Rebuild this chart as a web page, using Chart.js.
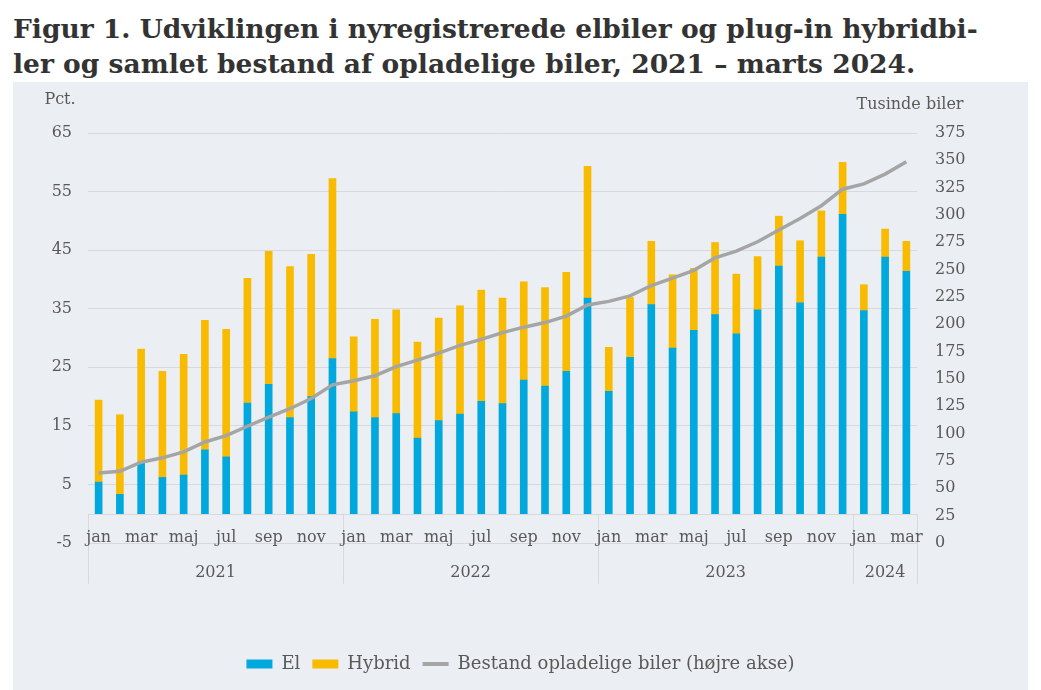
<!DOCTYPE html>
<html lang="da">
<head>
<meta charset="utf-8">
<title>Elbiler og plug-in hybridbiler</title>
<script src="https://cdn.jsdelivr.net/npm/chart.js@4"></script>
<style>
  html, body { margin: 0; padding: 0; background: #fff; }
  body { width: 1041px; height: 690px; position: relative; overflow: hidden; }
  h1 {
    position: absolute; left: 13px; top: 11px; margin: 0; width: 1020px;
    font-family: "DejaVu Serif", serif; font-weight: bold; font-size: 26.5px;
    line-height: 35px; color: #333; white-space: nowrap;
  }
  #wrap {
    position: absolute; left: 13px; top: 82px; width: 1015px; height: 608px;
    background: #ebeff3;
  }
</style>
</head>
<body>
<h1>Figur 1. Udviklingen i nyregistrerede elbiler og plug-in hybridbi-<br>ler og samlet bestand af opladelige biler, 2021 – marts 2024.</h1>
<div id="wrap"><canvas id="chart"></canvas></div>
<script>
// måneder og år
const monthNames = ['jan', 'feb', 'mar', 'apr', 'maj', 'jun', 'jul', 'aug', 'sep', 'okt', 'nov', 'dec'];
const years = ['2021', '2022', '2023', '2024'];
const monthsPerYear = [12, 12, 12, 3];

// andel af nyregistreringer, pct.
const elShare = [
  5.4, 3.3, 8.8, 6.2, 6.6, 10.9, 9.7, 18.9, 22.1, 16.4, 20.0, 26.5,
  17.4, 16.4, 17.1, 12.9, 15.9, 17.0, 19.2, 18.8, 22.8, 21.8, 24.3, 36.8,
  20.9, 26.7, 35.7, 28.3, 31.3, 34.0, 30.7, 34.8, 42.3, 36.0, 43.8, 51.1,
  34.7, 43.8, 41.4
];
const hybridShare = [
  14.0, 13.6, 19.3, 18.1, 20.6, 22.1, 21.8, 21.3, 22.7, 25.8, 24.3, 30.7,
  12.8, 16.8, 17.7, 16.4, 17.5, 18.5, 19.0, 18.0, 16.8, 16.8, 16.9, 22.5,
  7.5, 10.2, 10.8, 12.5, 10.6, 12.3, 10.2, 9.1, 8.5, 10.6, 7.9, 8.9,
  4.4, 4.8, 5.1
];
// bestand af opladelige biler, tusinde
const stock = [
  64.0, 65.6, 73.9, 77.9, 83.4, 92.4, 98.2, 106.8, 115.2, 122.8, 132.1, 144.7,
  148.4, 153.0, 161.3, 167.2, 173.6, 180.7, 186.3, 192.4, 197.4, 201.6, 207.5, 217.7,
  221.0, 226.0, 235.5, 242.3, 249.4, 260.8, 266.9, 275.5, 286.3, 296.8, 308.5, 323.6,
  328.5, 337.4, 348.8
];

const labels = [];
const tickLabels = [];
years.forEach((yr, k) => {
  for (let m = 0; m < monthsPerYear[k]; m++) {
    labels.push(monthNames[m] + ' ' + yr);
    tickLabels.push(m % 2 === 0 ? monthNames[m] : '');
  }
});

const textColor = '#595959';
const gridColor = '#d6d9dd';
const serif = '"DejaVu Serif", serif';

// aksetekster, månedsetiketter, årsgrupper og 0-linje
const extras = {
  id: 'extras',
  afterDraw(chart) {
    const { ctx, chartArea, scales } = chart;
    const x = scales.x, y = scales.y;
    const y0 = y.getPixelForValue(0);
    const half = (x.getPixelForValue(1) - x.getPixelForValue(0)) / 2;
    ctx.save();
    ctx.strokeStyle = gridColor;
    ctx.lineWidth = 1;
    ctx.beginPath();
    ctx.moveTo(chartArea.left, Math.round(y0) + 0.5);
    ctx.lineTo(chartArea.right, Math.round(y0) + 0.5);
    // gruppeskel
    let idx = 0;
    const bounds = [0];
    monthsPerYear.forEach(n => { idx += n; bounds.push(idx); });
    bounds.forEach(b => {
      const px = Math.round(x.getPixelForValue(b) - half) + 0.5;
      ctx.moveTo(px, y0);
      ctx.lineTo(px, y0 + 70);
    });
    ctx.stroke();

    ctx.fillStyle = textColor;
    ctx.font = '16px ' + serif;
    ctx.textAlign = 'center';
    ctx.textBaseline = 'middle';
    tickLabels.forEach((t, i) => {
      if (t) ctx.fillText(t, x.getPixelForValue(i), y0 + 24);
    });
    years.forEach((yr, k) => {
      const a = x.getPixelForValue(bounds[k]) - half;
      const b = x.getPixelForValue(bounds[k + 1]) - half;
      ctx.fillText(yr, (a + b) / 2, y0 + 59);
    });
    ctx.fillText('Pct.', 47, 18);
    ctx.fillText('Tusinde biler', 897, 23);
    ctx.restore();
  }
};

new Chart(document.getElementById('chart'), {
  type: 'bar',
  data: {
    labels: labels,
    datasets: [
      {
        label: 'El', data: elShare, backgroundColor: '#00a8de',
        barThickness: 7, yAxisID: 'y', order: 1
      },
      {
        label: 'Hybrid', data: hybridShare, backgroundColor: '#f8bb00',
        barThickness: 7, yAxisID: 'y', order: 1
      },
      {
        type: 'line', label: 'Bestand opladelige biler (højre akse)', data: stock,
        borderColor: '#a5a5a5', borderWidth: 3.5, pointRadius: 0, tension: 0,
        yAxisID: 'y1', order: 0
      }
    ]
  },
  options: {
    responsive: true,
    maintainAspectRatio: false,
    animation: false,
    layout: { padding: { top: 51, bottom: 7, left: 0, right: 0 } },
    scales: {
      x: {
        stacked: true,
        grid: { display: false },
        border: { display: false },
        ticks: { display: false },
        afterFit: s => { s.height = 100; }
      },
      y: {
        stacked: true,
        position: 'left',
        min: -5, max: 65,
        ticks: { stepSize: 10, color: textColor, font: { family: serif, size: 16 }, padding: 16 },
        grid: { color: gridColor, drawTicks: false },
        border: { display: false },
        afterFit: s => { s.width = 75; }
      },
      y1: {
        position: 'right',
        min: 0, max: 375,
        ticks: { stepSize: 25, color: textColor, font: { family: serif, size: 16 }, padding: 18 },
        grid: { display: false, drawTicks: false },
        border: { display: false },
        afterFit: s => { s.width = 111; }
      }
    },
    plugins: {
      tooltip: { enabled: false },
      legend: {
        position: 'bottom',
        labels: {
          usePointStyle: true,
          pointStyleWidth: 26,
          boxHeight: 9,
          padding: 12,
          color: textColor,
          font: { family: serif, size: 18 },
          generateLabels: chart => chart.data.datasets.map((ds, i) => ({
            text: ds.label,
            fillStyle: ds.type === 'line' ? ds.borderColor : ds.backgroundColor,
            strokeStyle: ds.type === 'line' ? ds.borderColor : ds.backgroundColor,
            lineWidth: ds.type === 'line' ? 4 : 0,
            pointStyle: ds.type === 'line' ? 'line' : 'rect',
            fontColor: textColor,
            hidden: false,
            datasetIndex: i
          }))
        }
      }
    }
  },
  plugins: [extras]
});
</script>
</body>
</html>
